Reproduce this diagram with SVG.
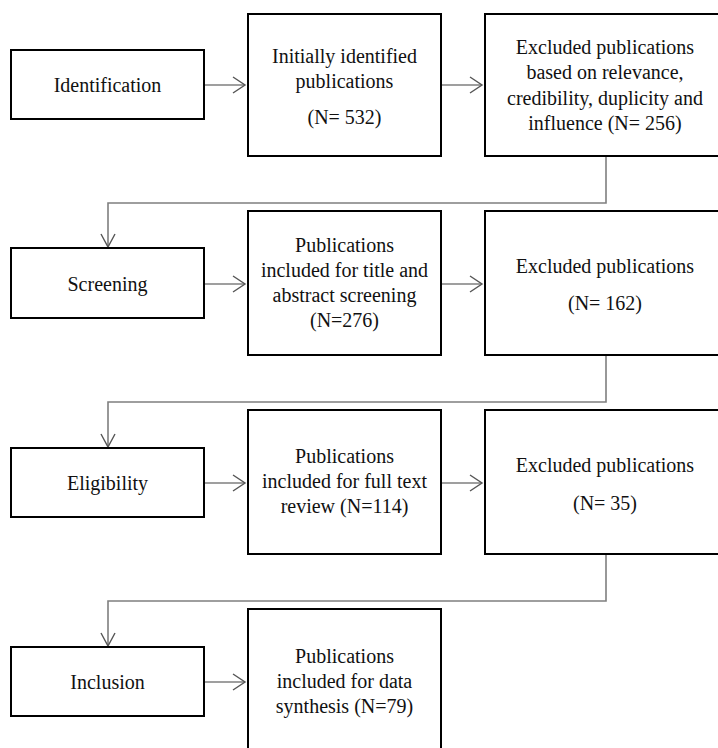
<svg xmlns="http://www.w3.org/2000/svg" width="718" height="748" viewBox="0 0 718 748">
<style>
.box{fill:#fff;stroke:#000;stroke-width:2}
.t{font-family:'Liberation Serif',Tinos,'Times New Roman','DejaVu Serif',serif;font-size:20px;fill:#111;text-anchor:middle}
.ln{fill:none;stroke:#7f7f7f;stroke-width:1.6}
.ah{fill:none;stroke:#555;stroke-width:1.4}
</style>
<rect width="718" height="748" fill="#fff"/>
<g id="connectors">
<path class="ln" d="M204,85H244"/><path class="ah" d="M233,77L245,85L233,93"/>
<path class="ln" d="M441,85H481"/><path class="ah" d="M470,77L482,85L470,93"/>
<path class="ln" d="M606,156V203H108V246"/><path class="ah" d="M101,234L108,247L115,234"/>
<path class="ln" d="M204,284H244"/><path class="ah" d="M233,276L245,284L233,292"/>
<path class="ln" d="M441,284H481"/><path class="ah" d="M470,276L482,284L470,292"/>
<path class="ln" d="M606,355V402H108V446"/><path class="ah" d="M101,434L108,447L115,434"/>
<path class="ln" d="M204,483H244"/><path class="ah" d="M233,475L245,483L233,491"/>
<path class="ln" d="M441,483H481"/><path class="ah" d="M470,475L482,483L470,491"/>
<path class="ln" d="M606,554V601H108V645"/><path class="ah" d="M101,633L108,646L115,633"/>
<path class="ln" d="M204,682H244"/><path class="ah" d="M233,674L245,682L233,690"/>
</g>
<g id="identification"><rect class="box" x="11" y="50" width="193" height="69"/><text class="t" x="107.5" y="92">Identification</text></g>
<g id="initially-identified"><rect class="box" x="248" y="14" width="193" height="142"/><text class="t" x="344.5" y="63">Initially identified</text><text class="t" x="344.5" y="88">publications</text><text class="t" x="344.5" y="124">(N= 532)</text></g>
<g id="excluded-1"><rect class="box" x="485" y="14" width="243" height="142"/><text class="t" x="605" y="54">Excluded publications</text><text class="t" x="605" y="79">based on relevance,</text><text class="t" x="605" y="105">credibility, duplicity and</text><text class="t" x="605" y="130">influence (N= 256)</text></g>
<g id="screening"><rect class="box" x="11" y="248" width="193" height="70"/><text class="t" x="107.5" y="291">Screening</text></g>
<g id="title-abstract"><rect class="box" x="248" y="211" width="193" height="144"/><text class="t" x="344.5" y="252">Publications</text><text class="t" x="344.5" y="277">included for title and</text><text class="t" x="344.5" y="302">abstract screening</text><text class="t" x="344.5" y="327">(N=276)</text></g>
<g id="excluded-2"><rect class="box" x="485" y="211" width="243" height="144"/><text class="t" x="605" y="273">Excluded publications</text><text class="t" x="605" y="310">(N= 162)</text></g>
<g id="eligibility"><rect class="box" x="11" y="448" width="193" height="69"/><text class="t" x="107.5" y="490">Eligibility</text></g>
<g id="full-text"><rect class="box" x="248" y="410" width="193" height="144"/><text class="t" x="344.5" y="463">Publications</text><text class="t" x="344.5" y="488">included for full text</text><text class="t" x="344.5" y="513">review (N=114)</text></g>
<g id="excluded-3"><rect class="box" x="485" y="410" width="243" height="144"/><text class="t" x="605" y="472">Excluded publications</text><text class="t" x="605" y="510">(N= 35)</text></g>
<g id="inclusion"><rect class="box" x="11" y="647" width="193" height="69"/><text class="t" x="107.5" y="689">Inclusion</text></g>
<g id="data-synthesis"><rect class="box" x="248" y="609" width="193" height="150"/><text class="t" x="344.5" y="663">Publications</text><text class="t" x="344.5" y="688">included for data</text><text class="t" x="344.5" y="713">synthesis (N=79)</text></g>
</svg>
